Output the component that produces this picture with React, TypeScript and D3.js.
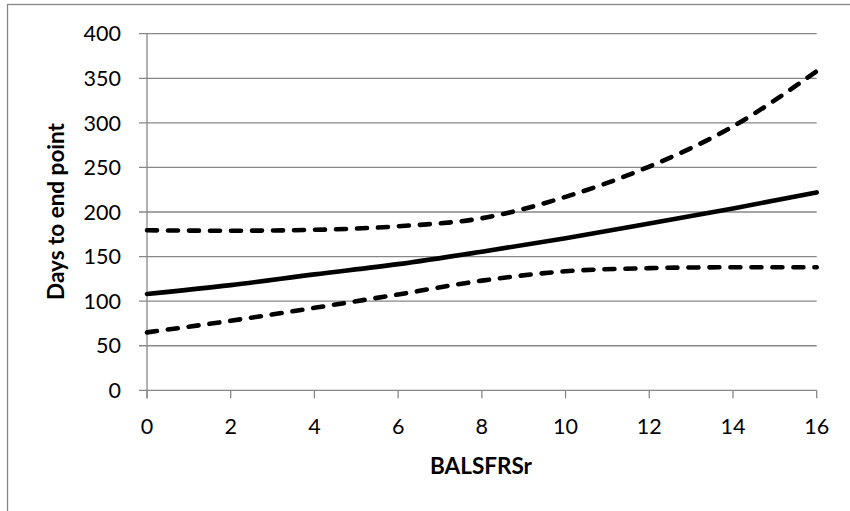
import React from "react";
import * as d3 from "d3";

// BALSFRSr values along the x axis
const xValues = [0, 2, 4, 6, 8, 10, 12, 14, 16];
// Predicted days to end point and its upper / lower bounds
const estimate = [108, 118, 130, 141.5, 155.5, 170.5, 187, 204, 222];
const upperBound = [179.5, 179, 180, 184, 193, 217, 251, 296, 358];
const lowerBound = [65, 78, 92.5, 107.5, 123, 133.5, 137, 138, 138];

const yTicks = [0, 50, 100, 150, 200, 250, 300, 350, 400];
const xTicks = [0, 2, 4, 6, 8, 10, 12, 14, 16];

const W = 850;
const H = 511;
const plot = { left: 147, right: 816.7, top: 33.7, bottom: 390.3 };
const grid = "#878787";
const font = "Lato, 'Open Sans', sans-serif";

export default function App() {
  const x = d3.scaleLinear().domain([0, 16]).range([plot.left, plot.right]);
  const y = d3.scaleLinear().domain([0, 400]).range([plot.bottom, plot.top]);
  const line = d3
    .line<number>()
    .x((_, i) => x(xValues[i]))
    .y((d) => y(d))
    .curve(d3.curveMonotoneX);

  return (
    <svg
      width={W}
      height={H}
      style={{ position: "absolute", left: 0, top: 0, background: "#fff" }}
    >
      {/* chart area border */}
      <rect x={7.5} y={4.5} width={W + 10} height={H + 10} fill="none" stroke={grid} strokeWidth={1.3} />

      {/* horizontal gridlines and y ticks */}
      {yTicks.map((t) => (
        <g key={t}>
          <line x1={plot.left - 8} x2={plot.right} y1={y(t)} y2={y(t)} stroke={grid} strokeWidth={1.3} />
          <text
            x={121}
            y={y(t)}
            dy="0.36em"
            textAnchor="end"
            fontFamily={font}
            fontSize={21.5}
            fill="#000"
          >
            {t}
          </text>
        </g>
      ))}

      {/* y axis line */}
      <line x1={plot.left} x2={plot.left} y1={plot.top} y2={plot.bottom + 8} stroke={grid} strokeWidth={1.3} />

      {/* x ticks */}
      {xTicks.map((t) => (
        <g key={t}>
          <line x1={x(t)} x2={x(t)} y1={plot.bottom} y2={plot.bottom + 8} stroke={grid} strokeWidth={1.3} />
          <text
            x={x(t)}
            y={434}
            textAnchor="middle"
            fontFamily={font}
            fontSize={21.5}
            fill="#000"
          >
            {t}
          </text>
        </g>
      ))}

      {/* series */}
      <path d={line(upperBound) ?? ""} fill="none" stroke="#000" strokeWidth={4.6} strokeDasharray="10 11" strokeLinecap="round" />
      <path d={line(lowerBound) ?? ""} fill="none" stroke="#000" strokeWidth={4.6} strokeDasharray="10 11" strokeLinecap="round" />
      <path d={line(estimate) ?? ""} fill="none" stroke="#000" strokeWidth={4.6} strokeLinecap="round" />

      {/* axis titles */}
      <text
        x={481}
        y={474}
        textAnchor="middle"
        fontFamily={font}
        fontWeight="bold"
        fontSize={22.5}
        fill="#000"
      >
        BALSFRSr
      </text>
      <text
        transform={`translate(64,${211.5}) rotate(-90)`}
        textAnchor="middle"
        fontFamily={font}
        fontWeight="bold"
        fontSize={22.5}
        fill="#000"
      >
        Days to end point
      </text>
    </svg>
  );
}
